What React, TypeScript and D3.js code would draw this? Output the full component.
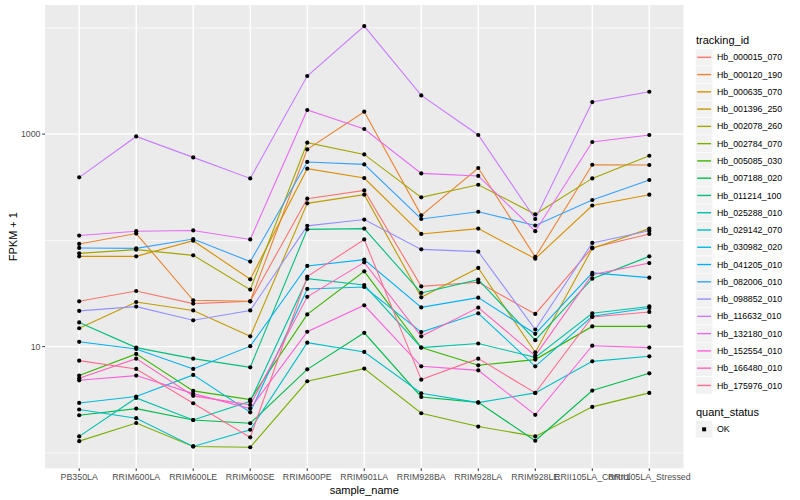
import * as d3 from "d3";

const sampleNames = [
  "PB350LA",
  "RRIM600LA",
  "RRIM600LE",
  "RRIM600SE",
  "RRIM600PE",
  "RRIM901LA",
  "RRIM928BA",
  "RRIM928LA",
  "RRIM928LE",
  "RRII105LA_Control",
  "RRII105LA_Stressed",
];

// FPKM + 1, one value per sample_name
const hb000015_070 = [26.7, 33.4, 25.4, 26.7, 247, 295, 36.9, 40.3, 20.3, 85.4, 115];
const hb000120_190 = [92.5, 116, 27.3, 26.7, 718, 1625, 172, 480, 69.8, 515, 512];
const hb000635_070 = [70.7, 70.7, 99.3, 43.0, 473, 386, 115, 129, 67.3, 213, 269];
const hb001396_250 = [14.9, 26.3, 21.9, 12.5, 223, 269, 29.1, 55.0, 8.84, 84.1, 129];
const hb002078_260 = [75.5, 81.8, 72.3, 34.4, 830, 644, 254, 334, 176, 383, 626];
const hb002784_070 = [1.29, 1.91, 1.15, 1.13, 4.72, 6.21, 2.36, 1.77, 1.43, 2.71, 3.67];
const hb005085_030 = [5.34, 8.54, 3.83, 3.17, 20.1, 51.1, 9.79, 6.67, 7.55, 15.5, 15.5];
const hb007188_020 = [2.26, 2.61, 2.04, 1.9, 6.11, 13.5, 3.36, 2.99, 1.3, 3.86, 5.61];
const hb011214_100 = [16.9, 9.79, 7.71, 6.39, 127, 129, 32.0, 42.7, 11.5, 43.6, 70.7];
const hb025288_010 = [1.43, 3.29, 2.04, 3.06, 43.6, 38.0, 9.79, 10.7, 7.93, 20.6, 23.9];
const hb029142_070 = [2.56, 2.12, 1.15, 1.65, 10.9, 8.91, 3.64, 2.97, 3.67, 7.27, 8.11];
const hb030982_020 = [2.95, 3.39, 5.42, 2.41, 34.9, 36.4, 13.7, 20.6, 6.53, 19.3, 23.1];
const hb041205_010 = [11.1, 9.51, 6.17, 10.1, 57.5, 65.8, 23.4, 28.9, 13.2, 49.4, 44.6];
const hb082006_010 = [84.9, 84.1, 103, 63.1, 547, 519, 159, 186, 138, 240, 370];
const hb098852_010 = [21.7, 23.8, 17.7, 21.9, 137, 157, 82.3, 78.3, 14.5, 94.6, 123];
const hb116632_010 = [392, 951, 604, 383, 3524, 10400, 2312, 981, 159, 2004, 2506];
const hb132180_010 = [111, 122, 124, 102, 1686, 1117, 427, 404, 122, 843, 981];
const hb152554_010 = [4.82, 5.34, 3.61, 2.61, 13.8, 24.5, 6.53, 5.98, 2.28, 10.2, 9.79];
const hb166480_010 = [5.03, 7.71, 3.44, 2.83, 29.4, 62.1, 12.5, 23.3, 8.23, 47.5, 61.2];
const hb175976_010 = [7.38, 6.17, 2.93, 1.4, 45.6, 102, 4.89, 7.71, 3.67, 19.0, 21.2];

const trackingIds = [
  "Hb_000015_070",
  "Hb_000120_190",
  "Hb_000635_070",
  "Hb_001396_250",
  "Hb_002078_260",
  "Hb_002784_070",
  "Hb_005085_030",
  "Hb_007188_020",
  "Hb_011214_100",
  "Hb_025288_010",
  "Hb_029142_070",
  "Hb_030982_020",
  "Hb_041205_010",
  "Hb_082006_010",
  "Hb_098852_010",
  "Hb_116632_010",
  "Hb_132180_010",
  "Hb_152554_010",
  "Hb_166480_010",
  "Hb_175976_010",
];

const seriesValues = [
  hb000015_070, hb000120_190, hb000635_070, hb001396_250, hb002078_260,
  hb002784_070, hb005085_030, hb007188_020, hb011214_100, hb025288_010,
  hb029142_070, hb030982_020, hb041205_010, hb082006_010, hb098852_010,
  hb116632_010, hb132180_010, hb152554_010, hb166480_010, hb175976_010,
];

// ggplot hue palette for 20 levels
const palette = [
  "#F8766D", "#EA8331", "#D89000", "#C09B00", "#A3A500",
  "#7CAE00", "#39B600", "#00BB4E", "#00BF7D", "#00C1A3",
  "#00BFC4", "#00BAE0", "#00B0F6", "#35A2FF", "#9590FF",
  "#C77CFF", "#E76BF3", "#FA62DB", "#FF62BC", "#FF6C91",
];

const yMajor = [10, 1000];
const yMinor = [1, 100, 10000];

const FONT = "'Liberation Sans', Arial, Helvetica, sans-serif";

export default function App() {
  const panel = { left: 45, right: 683.5, top: 5, bottom: 468.3 };

  const x = d3
    .scalePoint<string>()
    .domain(sampleNames)
    .range([panel.left, panel.right])
    .padding(0.6);

  // log10 scale with ggplot's 5% expansion
  const logs = seriesValues.flat().map((v) => Math.log10(v));
  const [lo, hi] = d3.extent(logs) as [number, number];
  const pad = (hi - lo) * 0.05;
  const y = d3
    .scaleLog()
    .domain([10 ** (lo - pad), 10 ** (hi + pad)])
    .range([panel.bottom, panel.top]);

  const line = d3
    .line<number>()
    .x((_, i) => x(sampleNames[i]) as number)
    .y((d) => y(d));

  const keyX = 695.5;
  const keySize = 17.27;
  const keyY0 = 57.3;

  return (
    <svg
      width={800}
      height={500}
      style={{ position: "absolute", left: 0, top: 0, background: "#fff", fontFamily: FONT }}
    >
      {/* panel */}
      <rect
        x={panel.left}
        y={panel.top}
        width={panel.right - panel.left}
        height={panel.bottom - panel.top}
        fill="#EBEBEB"
      />
      {yMinor.map((t) => (
        <line key={"mn" + t} x1={panel.left} x2={panel.right} y1={y(t)} y2={y(t)} stroke="#fff" strokeWidth={0.7} />
      ))}
      {yMajor.map((t) => (
        <line key={"mj" + t} x1={panel.left} x2={panel.right} y1={y(t)} y2={y(t)} stroke="#fff" strokeWidth={1.4} />
      ))}
      {sampleNames.map((s) => (
        <line key={"vx" + s} x1={x(s)} x2={x(s)} y1={panel.top} y2={panel.bottom} stroke="#fff" strokeWidth={1.4} />
      ))}

      {/* lines */}
      {seriesValues.map((vals, i) => (
        <path key={"l" + i} d={line(vals) ?? ""} fill="none" stroke={palette[i]} strokeWidth={1.1} />
      ))}
      {/* points */}
      {seriesValues.map((vals, i) =>
        vals.map((v, j) => (
          <circle key={`p${i}-${j}`} cx={x(sampleNames[j])} cy={y(v)} r={2.1} fill="#000" />
        ))
      )}

      {/* y axis */}
      {yMajor.map((t) => (
        <g key={"yt" + t}>
          <line x1={panel.left - 2.75} x2={panel.left} y1={y(t)} y2={y(t)} stroke="#333" strokeWidth={1} />
          <text x={panel.left - 4.5} y={y(t) + 3.1} textAnchor="end" fontSize={8.8} fill="#4D4D4D">
            {t}
          </text>
        </g>
      ))}
      <text
        transform={`translate(16.5,${(panel.top + panel.bottom) / 2}) rotate(-90)`}
        textAnchor="middle"
        fontSize={11}
        fill="#000"
      >
        FPKM + 1
      </text>

      {/* x axis */}
      {sampleNames.map((s) => (
        <g key={"xt" + s}>
          <line x1={x(s)} x2={x(s)} y1={panel.bottom} y2={panel.bottom + 2.75} stroke="#333" strokeWidth={1} />
          <text x={x(s)} y={panel.bottom + 12} textAnchor="middle" fontSize={8.8} fill="#4D4D4D">
            {s}
          </text>
        </g>
      ))}
      <text x={(panel.left + panel.right) / 2} y={494} textAnchor="middle" fontSize={11} fill="#000">
        sample_name
      </text>

      {/* legend: tracking_id */}
      <text x={696} y={44} fontSize={11} fill="#000">
        tracking_id
      </text>
      {trackingIds.map((id, i) => {
        const yc = keyY0 + i * keySize;
        return (
          <g key={"lg" + id}>
            <rect x={keyX} y={yc - keySize / 2} width={keySize} height={keySize} fill="#F2F2F2" stroke="#fff" strokeWidth={0.6} />
            <line x1={keyX + 1.7} x2={keyX + keySize - 1.7} y1={yc} y2={yc} stroke={palette[i]} strokeWidth={1.4} />
            <text x={717} y={yc + 3.1} fontSize={8.8} fill="#000">
              {id}
            </text>
          </g>
        );
      })}

      {/* legend: quant_status */}
      <text x={696} y={416} fontSize={11} fill="#000">
        quant_status
      </text>
      <rect x={keyX} y={429.3 - keySize / 2} width={keySize} height={keySize} fill="#F2F2F2" stroke="#fff" strokeWidth={0.6} />
      <rect x={keyX + keySize / 2 - 2} y={429.3 - 2} width={4} height={4} fill="#000" />
      <text x={717} y={432.4} fontSize={8.8} fill="#000">
        OK
      </text>
    </svg>
  );
}
